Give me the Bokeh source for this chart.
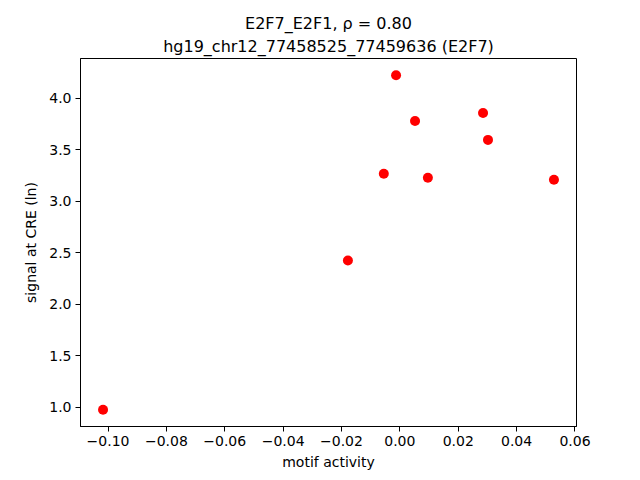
from bokeh.plotting import figure
from bokeh.models import Title, FixedTicker, Range1d, ColumnDataSource
from bokeh.embed import file_html
from bokeh.resources import INLINE

# data
motif_activity = [-0.1017, -0.0178, -0.0013, 0.0052, 0.0285, 0.0302, -0.0055, 0.0096, 0.0528]
signal_at_cre = [0.977, 2.427, 4.226, 3.781, 3.859, 3.598, 3.269, 3.230, 3.211]

x_ticks = [-0.10, -0.08, -0.06, -0.04, -0.02, 0.00, 0.02, 0.04, 0.06]
y_ticks = [1.0, 1.5, 2.0, 2.5, 3.0, 3.5, 4.0]

title_line1 = "E2F7_E2F1, ρ = 0.80"
title_line2 = "hg19_chr12_77458525_77459636 (E2F7)"

FONT = "DejaVu Sans"

xs = min(motif_activity); xe = max(motif_activity); xm = (xe - xs) * 0.05
ys = min(signal_at_cre); ye = max(signal_at_cre); ym = (ye - ys) * 0.05

p = figure(width=624, height=472, output_backend="svg", toolbar_location=None,
           x_range=Range1d(xs - xm, xe + xm), y_range=Range1d(ys - ym, ye + ym),
           min_border_left=80, min_border_right=48, min_border_top=58, min_border_bottom=45)
p.title = None
p.add_layout(Title(text=title_line2, align="center", text_font=FONT, text_font_size="16px",
                   text_font_style="normal", text_color="black", standoff=5, offset=0), "above")
p.add_layout(Title(text=title_line1, align="center", text_font=FONT, text_font_size="16px",
                   text_font_style="normal", text_color="black", standoff=0, offset=0), "above")

src = ColumnDataSource(dict(x=motif_activity, y=signal_at_cre))
p.scatter("x", "y", source=src, size=10, fill_color="#ff0000", line_color="#ff0000", line_width=0)

p.xgrid.visible = False
p.ygrid.visible = False
p.outline_line_color = "black"
p.outline_line_width = 1
p.outline_line_alpha = 1

p.xaxis.ticker = FixedTicker(ticks=x_ticks)
p.yaxis.ticker = FixedTicker(ticks=y_ticks)
p.xaxis.major_label_overrides = {t: f"{t:.2f}".replace("-", "\u2212") for t in x_ticks}
p.yaxis.major_label_overrides = {t: f"{t:.1f}" for t in y_ticks}
p.xaxis.axis_label = "motif activity"
p.yaxis.axis_label = "signal at CRE (ln)"

for ax in (p.xaxis[0], p.yaxis[0]):
    ax.minor_tick_line_color = None
    ax.major_tick_in = 0
    ax.major_tick_out = 5
    ax.major_tick_line_color = "black"
    ax.axis_line_color = "black"
    ax.major_label_text_font = FONT
    ax.major_label_text_font_size = "14px"
    ax.major_label_text_color = "black"
    ax.axis_label_text_font = FONT
    ax.axis_label_text_font_size = "14px"
    ax.axis_label_text_font_style = "normal"
    ax.axis_label_text_color = "black"
    ax.major_label_standoff = 4
    ax.axis_label_standoff = 5
p.yaxis[0].axis_label_standoff = 7

open("out.html", "w").write(file_html(p, INLINE))
